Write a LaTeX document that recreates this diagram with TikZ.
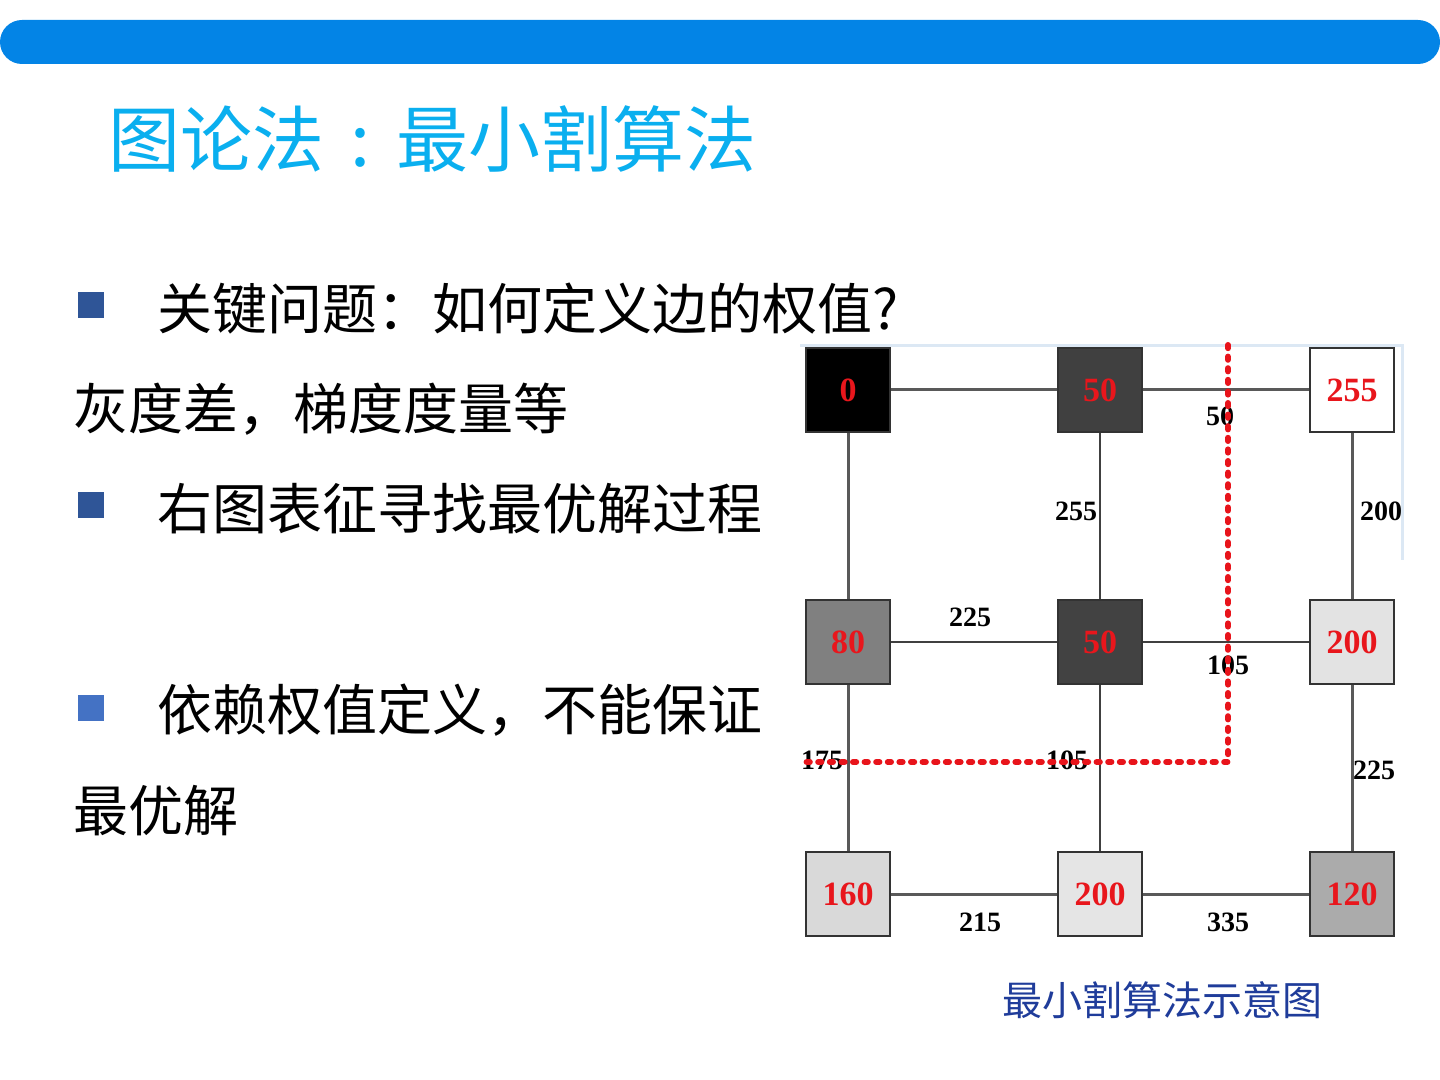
\documentclass[tikz,border=0pt]{standalone}
\usepackage{fontspec}
\setmainfont{Liberation Serif}
\newfontfamily\cjk{Noto Sans CJK SC}
\usetikzlibrary{positioning}
\definecolor{barblue}{HTML}{0384E6}
\definecolor{titleblue}{HTML}{0AAFEF}
\definecolor{bulletA}{HTML}{2F5597}
\definecolor{bulletB}{HTML}{4472C4}
\definecolor{capblue}{HTML}{1F3C9A}
\definecolor{cutred}{HTML}{E8141B}
\definecolor{digitred}{HTML}{E8161C}
\definecolor{framefaint}{HTML}{DCE8F4}

\begin{document}
\begin{tikzpicture}[x=0.5pt, y=-0.5pt,
    pix/.style={rectangle, draw=black!80, line width=1pt, minimum size=42pt, inner sep=0pt,
        font=\fontsize{17}{17}\selectfont\bfseries, text=digitred},
    wt/.style={font=\fontsize{14}{14}\selectfont\bfseries, inner sep=1pt},
    edge/.style={draw=black!65, line width=1.5pt},
    thinedge/.style={draw=black!75, line width=0.7pt},
    cut/.style={draw=cutred, line width=3pt, line cap=round, dash pattern=on 1.6pt off 4.2pt},
    bullet/.style={rectangle, minimum size=13pt, inner sep=0pt},
    txt/.style={anchor=west, inner sep=0pt, font=\cjk\fontsize{27.5}{30}\selectfont}]

    \useasboundingbox (0,0) rectangle (1440,1080);

    % Top bar
    \fill[barblue, rounded corners=11pt] (0,20) rectangle (1440,64);

    % Title
    \node[anchor=west, inner sep=0pt, text=titleblue, font=\cjk\fontsize{36}{40}\selectfont]
        (title) at (108,139) {图论法\makebox[1em][c]{:}最小割算法};

    % Bullets and text
    \node[bullet, fill=bulletA] (b1) at (91,305) {};
    \node[txt] (t1) at (157,309) {关键问题：如何定义边的权值?};
    \node[txt] (t2) at (73,409) {灰度差，梯度度量等};
    \node[bullet, fill=bulletA] (b2) at (91,505) {};
    \node[txt] (t3) at (157,509) {右图表征寻找最优解过程};
    \node[bullet, fill=bulletB] (b3) at (91,708) {};
    \node[txt] (t4) at (157,710) {依赖权值定义，不能保证};
    \node[txt] (t5) at (73,811) {最优解};

    % Picture frame
    \draw[framefaint, line width=1.5pt] (800,346) -- (1402,346) -- (1402,560);

    % Pixels
    \foreach \n/\x/\y/\g/\v in {p1/848/390/black/0, p2/1100/390/black!75/50, p3/1352/390/white/255,
        p4/848/642/black!50/80, p5/1100/642/black!74/50, p6/1352/642/black!11/200,
        p7/848/894/black!15/160, p8/1100/894/black!10/200, p9/1352/894/black!33/120}
        \node[pix, fill=\g] (\n) at (\x,\y) {\v};

    % Edges
    \draw[edge] (p1) -- (p2);
    \draw[edge] (p2) -- (p3);
    \draw[edge] (p1) -- (p4);
    \draw[thinedge] (p2) -- (p5);
    \draw[edge] (p3) -- (p6);
    \draw[thinedge] (p4) -- (p5);
    \draw[thinedge] (p5) -- (p6);
    \draw[edge] (p4) -- (p7);
    \draw[thinedge] (p5) -- (p8);
    \draw[edge] (p6) -- (p9);
    \draw[edge] (p7) -- (p8);
    \draw[edge] (p8) -- (p9);

    % Weights
    \node[wt] (w23) at (1220,416) {50};
    \node[wt] (w25) at (1076,511) {255};
    \node[wt] (w36) at (1381,511) {200};
    \node[wt] (w45) at (970,617) {225};
    \node[wt] (w56) at (1228,665) {105};
    \node[wt] (w47) at (822,760) {175};
    \node[wt] (w58) at (1067,760) {105};
    \node[wt] (w69) at (1374,770) {225};
    \node[wt] (w78) at (980,922) {215};
    \node[wt] (w89) at (1228,922) {335};

    % Cut
    \coordinate (c1) at (1228,345);
    \coordinate (c2) at (1228,762);
    \coordinate (c3) at (800,762);
    \draw[cut] (c1) -- (c2) -- (c3);

    % Caption
    \node[font=\cjk\fontsize{20}{24}\selectfont, text=capblue] (cap) at (1162,1000) {最小割算法示意图};
\end{tikzpicture}
\end{document}
